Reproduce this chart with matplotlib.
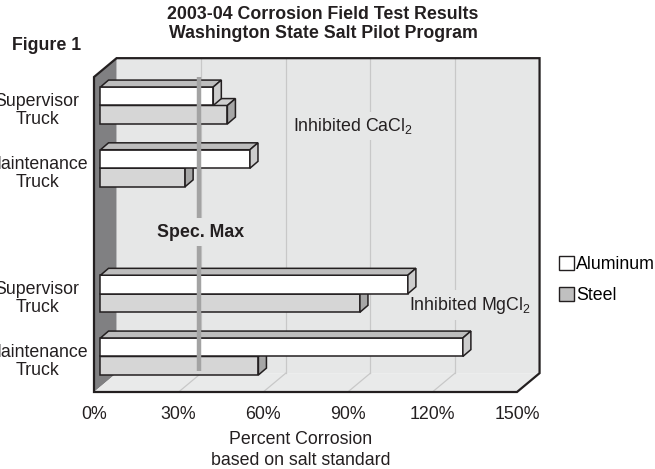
import matplotlib
matplotlib.use("Agg")
import matplotlib.pyplot as plt
from matplotlib.patches import Polygon, Patch

# data (percent corrosion)
groups = ["Supervisor\nTruck", "Maintenance\nTruck", "Supervisor\nTruck", "Maintenance\nTruck"]
group_slots = [0, 1, 3, 4]
salts = ["Inhibited CaCl$\\mathregular{_2}$", "Inhibited MgCl$\\mathregular{_2}$"]
aluminum = [40, 53, 109, 128.5]
steel = [45, 30, 92, 56]
spec_max = 35
xticks = [0, 30, 60, 90, 120, 150]
xticklabels = ["0%", "30%", "60%", "90%", "120%", "150%"]

plt.rcParams["font.family"] = ["Liberation Sans", "DejaVu Sans"]
INK = "#231f20"
FS = 12.8

# pseudo 3D layout (in data units)
DX, DY = 8.0, -0.30        # depth of the box
BX, BY = 2.85, -0.11       # depth of each bar
BAR_X0 = 2.3               # bar plane offset
BAR_H = 0.295
YBOT, YTOP = 4.566, -0.454

WALL = "#e6e7e7"
FLOOR = "#e9eaea"
SIDE = "#808082"
GRID = "#c8c8c8"
ALU = ("white", "#bdbdbd", "#cdcdcd")
STEEL = ("#d6d6d6", "#cfcfcf", "#a6a6a6")

fig = plt.figure(figsize=(6.55, 4.69), dpi=100)
ax = fig.add_axes([94 / 655, 1 - 392 / 469, 423 / 655, 315 / 469])
ax.set_xlim(0, 150)
ax.set_ylim(YBOT, YTOP)
for s in ax.spines.values():
    s.set_visible(False)
ax.set_facecolor("none")


def poly(pts, fc, ec="none", lw=0, z=1):
    ax.add_patch(Polygon(pts, closed=True, fc=fc, ec=ec, lw=lw, zorder=z,
                         clip_on=False, joinstyle="miter"))


# walls and floor
poly([(DX, YTOP + DY), (150 + DX, YTOP + DY), (150 + DX, YBOT + DY), (DX, YBOT + DY)], WALL)
poly([(0, YBOT), (0, YTOP), (DX, YTOP + DY), (DX, YBOT + DY)], SIDE)
poly([(0, YBOT), (150, YBOT), (150 + DX, YBOT + DY), (DX, YBOT + DY)], FLOOR)

for p in xticks[1:-1]:
    ax.plot([p, p + DX], [YBOT, YBOT + DY], color=GRID, lw=0.9, zorder=2, clip_on=False)
    ax.plot([p + DX, p + DX], [YBOT + DY, YTOP + DY], color=GRID, lw=0.9, zorder=2, clip_on=False)

poly([(0, YBOT), (0, YTOP), (DX, YTOP + DY), (150 + DX, YTOP + DY),
      (150 + DX, YBOT + DY), (150, YBOT)], "none", INK, 1.6, 12)


def bar3d(y0, w, cols, z):
    x0 = BAR_X0
    x1 = x0 + w
    y1 = y0 + BAR_H
    poly([(x0, y0), (x1, y0), (x1, y1), (x0, y1)], cols[0], INK, 1.1, z)
    poly([(x0, y0), (x1, y0), (x1 + BX, y0 + BY), (x0 + BX, y0 + BY)], cols[1], INK, 1.1, z)
    poly([(x1, y0), (x1 + BX, y0 + BY), (x1 + BX, y1 + BY), (x1, y1)], cols[2], INK, 1.1, z)


for i, slot in enumerate(group_slots):
    bar3d(slot, steel[i], STEEL, 4 + i)
    bar3d(slot - BAR_H, aluminum[i], ALU, 4 + i + 0.5)

# spec max line
ax.plot([BAR_X0 + spec_max] * 2, [-0.65, 4.23], color="#a3a3a3", lw=3.2, zorder=10,
        solid_capstyle="butt")
ax.text(BAR_X0 + spec_max + 0.6, 2.02, "Spec. Max", ha="center", va="center", fontsize=FS,
        fontweight="bold", color=INK, zorder=11,
        bbox=dict(fc=WALL, ec="none", pad=4))

ax.text(91.8, 0.33, salts[0], ha="center", va="center", fontsize=FS, color=INK, zorder=3,
        bbox=dict(fc=WALL, ec="none", pad=3))
ax.text(133.3, 3.18, salts[1], ha="center", va="center", fontsize=FS, color=INK, zorder=3,
        bbox=dict(fc=WALL, ec="none", pad=3))

# axes ticks
ax.set_xticks(xticks, xticklabels, fontsize=FS, color=INK)
ax.set_yticks([s + 0.04 for s in group_slots], groups, fontsize=FS, color=INK)
ax.tick_params(axis="both", length=0)
ax.tick_params(axis="x", pad=10)
ax.tick_params(axis="y", pad=41)
for lbl in ax.get_yticklabels():
    lbl.set_ha("center")
    lbl.set_multialignment("center")
    lbl.set_linespacing(1.08)

ax.set_xlabel("Percent Corrosion\nbased on salt standard", fontsize=FS, color=INK,
              linespacing=1.3)
ax.xaxis.set_label_coords((301 - 94) / 423, -0.125)

fig.text(323 / 655, 1 - 24 / 469,
         "2003-04 Corrosion Field Test Results\nWashington State Salt Pilot Program",
         ha="center", va="center", fontsize=FS, fontweight="bold", color=INK, linespacing=1.08)
fig.text(12 / 655, 1 - 45 / 469, "Figure 1", ha="left", va="center", fontsize=FS,
         fontweight="bold", color=INK)

handles = [Patch(fc="white", ec=INK, lw=1), Patch(fc="#c0c0c0", ec=INK, lw=1)]
ax.legend(handles, ["Aluminum", "Steel"], loc="upper left",
          bbox_to_anchor=(559 / 655, 1 - 256 / 469), bbox_transform=fig.transFigure,
          frameon=False, fontsize=FS, handlelength=0.85, handleheight=0.85,
          handletextpad=0.1, labelspacing=0.75, borderpad=0, borderaxespad=0)

fig.savefig("out.png", dpi=100)
